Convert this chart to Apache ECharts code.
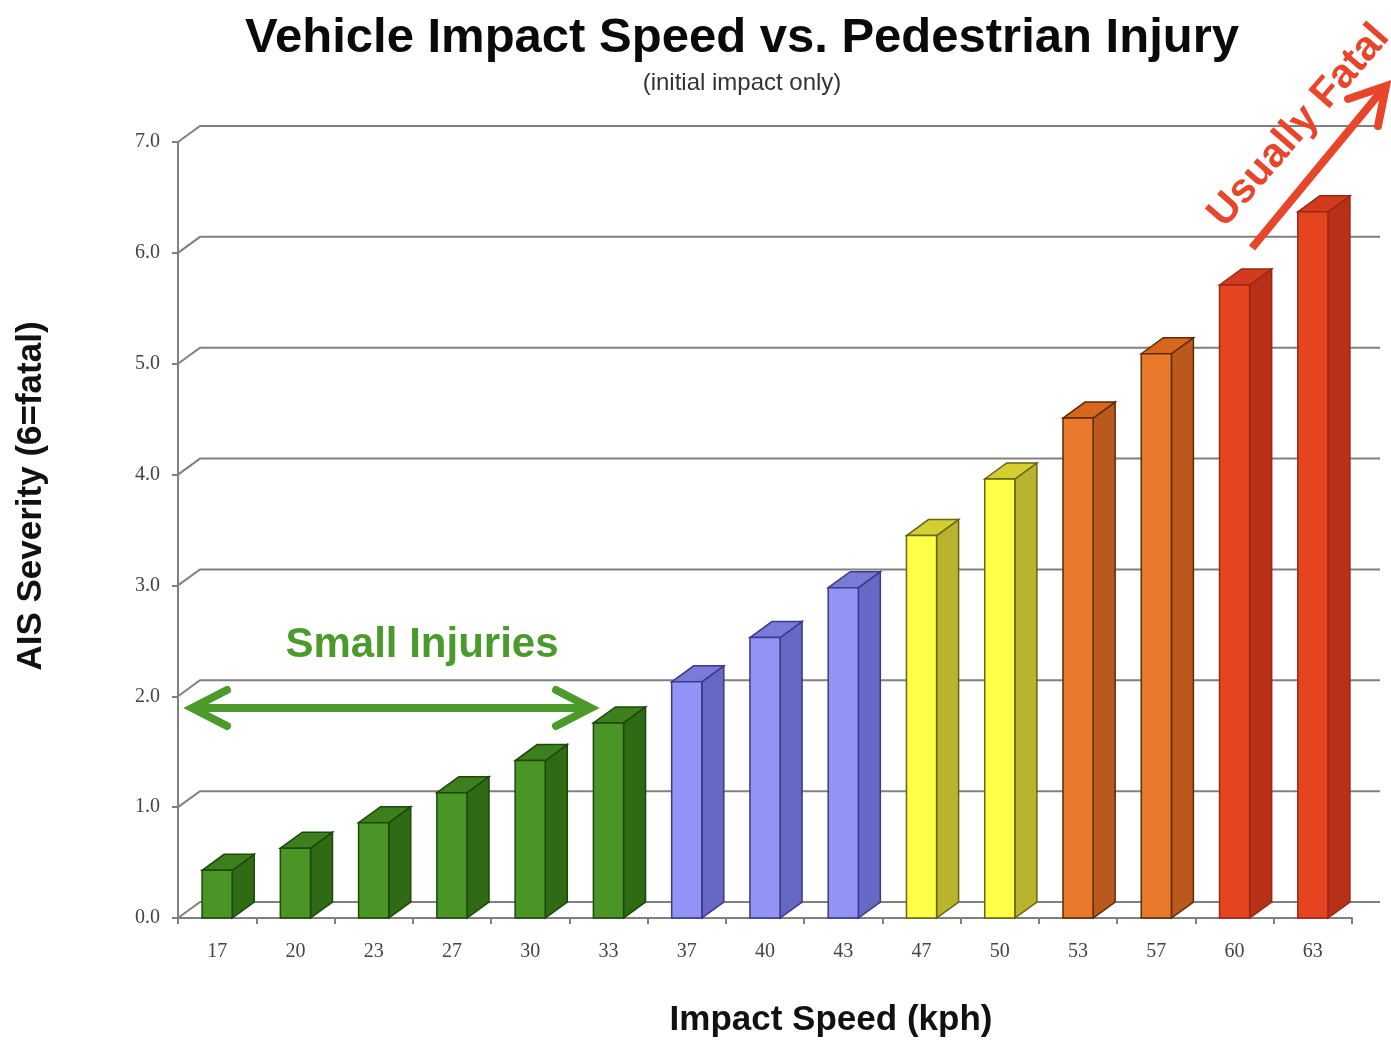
<!DOCTYPE html>
<html>
<head>
<meta charset="utf-8">
<script src="https://cdn.jsdelivr.net/npm/echarts@6/dist/echarts.min.js"></script>
<style>
  html, body { margin: 0; padding: 0; background: #fff; }
  #chart { width: 1391px; height: 1041px; }
</style>
</head>
<body>
<div id="chart"></div>
<script>
// ---- data ----
const speeds = ['17', '20', '23', '27', '30', '33', '37', '40', '43', '47', '50', '53', '57', '60', '63'];
const severity = [0.43, 0.63, 0.86, 1.13, 1.42, 1.76, 2.13, 2.53, 2.98, 3.45, 3.96, 4.51, 5.09, 5.71, 6.37];
const band = ['minor', 'minor', 'minor', 'minor', 'minor', 'minor',
              'moderate', 'moderate', 'moderate',
              'serious', 'serious',
              'severe', 'severe',
              'fatal', 'fatal'];
const yTicks = [0, 1, 2, 3, 4, 5, 6, 7];

// ---- styles ----
const BAND_STYLE = {
  minor:    { front: '#4b9526', side: '#2f6b14', top: '#3c7f1c', stroke: '#1d470b' },
  moderate: { front: '#9393f6', side: '#6767c6', top: '#7a7ad8', stroke: '#3a3a86' },
  serious:  { front: '#ffff48', side: '#b9b42f', top: '#d3cf32', stroke: '#66660e' },
  severe:   { front: '#e9792a', side: '#b9591d', top: '#d9661f', stroke: '#5c2b08' },
  fatal:    { front: '#e54421', side: '#b93019', top: '#d23b1d', stroke: '#9a2812' }
};
const DX = 22, DY = 16;
const GRID_COLOR = '#808080';

const chart = echarts.init(document.getElementById('chart'));

chart.setOption({
  animation: false,
  backgroundColor: '#ffffff',
  grid: { left: 178, top: 142, width: 1174, height: 776 },
  xAxis: {
    type: 'category',
    data: speeds,
    axisLine: { show: true, lineStyle: { color: GRID_COLOR, width: 2 } },
    axisTick: { show: true, length: 6, lineStyle: { color: GRID_COLOR, width: 2 } },
    axisLabel: { fontFamily: 'Liberation Serif', fontSize: 20, color: '#444', margin: 24 },
    splitLine: { show: false }
  },
  yAxis: {
    type: 'value',
    min: 0, max: 7, interval: 1,
    axisLine: { show: true, lineStyle: { color: GRID_COLOR, width: 2 } },
    axisTick: { show: true, length: 6, lineStyle: { color: GRID_COLOR, width: 2 } },
    axisLabel: {
      fontFamily: 'Liberation Serif', fontSize: 20, color: '#444', margin: 18,
      formatter: v => v.toFixed(1)
    },
    splitLine: { show: false }
  },
  series: [
    {
      type: 'custom',
      name: 'grid3d',
      z: 1,
      silent: true,
      clip: false,
      data: yTicks.map(t => [0, t]),
      renderItem: function (params, api) {
        const cs = params.coordSys;
        const y = api.coord([0, api.value(1)])[1];
        const x0 = cs.x;
        return {
          type: 'polyline',
          shape: { points: [[x0, y], [x0 + DX, y - DY], [x0 + cs.width + DX + 6, y - DY]] },
          style: { stroke: GRID_COLOR, lineWidth: 2, fill: null }
        };
      }
    },
    {
      type: 'custom',
      name: 'AIS Severity',
      z: 3,
      clip: false,
      data: severity.map((v, i) => [i, v]),
      encode: { x: 0, y: 1 },
      renderItem: function (params, api) {
        const i = api.value(0);
        const v = api.value(1);
        const top = api.coord([i, v]);
        const base = api.coord([i, 0]);
        const w = api.size([1, 0])[0] * 0.385;
        const x = top[0] - w / 2;
        const yt = top[1], yb = base[1];
        const st = BAND_STYLE[band[i]];
        const lw = 1.5;
        return {
          type: 'group',
          children: [
            {
              type: 'polygon',
              shape: { points: [[x + w, yt], [x + w + DX, yt - DY], [x + w + DX, yb - DY], [x + w, yb]] },
              style: { fill: st.side, stroke: st.stroke, lineWidth: lw }
            },
            {
              type: 'polygon',
              shape: { points: [[x, yt], [x + DX, yt - DY], [x + w + DX, yt - DY], [x + w, yt]] },
              style: { fill: st.top, stroke: st.stroke, lineWidth: lw }
            },
            {
              type: 'rect',
              shape: { x: x, y: yt, width: w, height: yb - yt },
              style: { fill: st.front, stroke: st.stroke, lineWidth: lw }
            }
          ]
        };
      }
    }
  ],
  graphic: [
    {
      type: 'text', x: 742, y: 38,
      style: {
        text: 'Vehicle Impact Speed vs. Pedestrian Injury',
        font: 'bold 49px "Liberation Sans", Arial, sans-serif',
        fill: '#0a0a0a', align: 'center', verticalAlign: 'middle', textAlign: 'center', textVerticalAlign: 'middle'
      }
    },
    {
      type: 'text', x: 742, y: 83,
      style: {
        text: '(initial impact only)',
        font: '24px "Liberation Sans", Arial, sans-serif',
        fill: '#333', align: 'center', verticalAlign: 'middle', textAlign: 'center', textVerticalAlign: 'middle'
      }
    },
    {
      type: 'text', x: 31, y: 496, rotation: Math.PI / 2,
      style: {
        text: 'AIS Severity (6=fatal)',
        font: 'bold 35px "Liberation Sans", Arial, sans-serif',
        fill: '#111', align: 'center', verticalAlign: 'middle', textAlign: 'center', textVerticalAlign: 'middle'
      }
    },
    {
      type: 'text', x: 831, y: 1020,
      style: {
        text: 'Impact Speed (kph)',
        font: 'bold 35px "Liberation Sans", Arial, sans-serif',
        fill: '#111', align: 'center', verticalAlign: 'middle', textAlign: 'center', textVerticalAlign: 'middle'
      }
    },
    {
      type: 'text', x: 422, y: 645, z: 10,
      style: {
        text: 'Small Injuries',
        font: 'bold 42px "Liberation Sans", Arial, sans-serif',
        fill: '#4d9a2c', align: 'center', verticalAlign: 'middle', textAlign: 'center', textVerticalAlign: 'middle'
      }
    },
    {
      type: 'polyline', z: 10,
      shape: { points: [[192, 708], [591, 708]] },
      style: { stroke: '#4d9a2c', lineWidth: 8, fill: null }
    },
    {
      type: 'polyline', z: 10,
      shape: { points: [[227, 690], [192, 708], [227, 726]] },
      style: { stroke: '#4d9a2c', lineWidth: 8, fill: null, lineCap: 'round', lineJoin: 'miter' }
    },
    {
      type: 'polyline', z: 10,
      shape: { points: [[556, 690], [591, 708], [556, 726]] },
      style: { stroke: '#4d9a2c', lineWidth: 8, fill: null, lineCap: 'round', lineJoin: 'miter' }
    },
    {
      type: 'text', x: 1299, y: 126, rotation: 49 * Math.PI / 180, z: 10,
      style: {
        text: 'Usually Fatal',
        font: 'bold 41px "Liberation Sans", Arial, sans-serif',
        fill: '#e8462a', align: 'center', verticalAlign: 'middle', textAlign: 'center', textVerticalAlign: 'middle'
      }
    },
    {
      type: 'polyline', z: 10,
      shape: { points: [[1252, 248], [1384, 88]] },
      style: { stroke: '#e8462a', lineWidth: 8, fill: null }
    },
    {
      type: 'polyline', z: 10,
      shape: { points: [[1348, 99], [1386, 86], [1378, 126]] },
      style: { stroke: '#e8462a', lineWidth: 8, fill: null, lineCap: 'round', lineJoin: 'miter' }
    }
  ]
});
</script>
</body>
</html>
